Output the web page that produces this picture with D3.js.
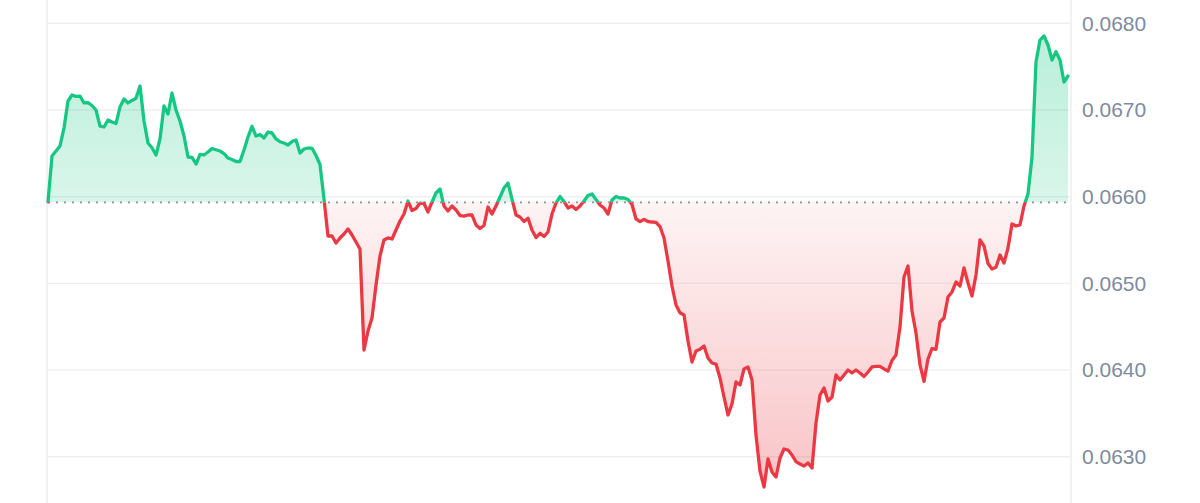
<!DOCTYPE html>
<html>
<head>
<meta charset="utf-8">
<script src="https://cdn.jsdelivr.net/npm/d3@7"></script>
<style>
  html, body { margin: 0; padding: 0; background: #fff; }
  svg { display: block; }
</style>
</head>
<body>
<div id="chart"></div>
<script>
// price readings, evenly spaced in time
const prices = [
  0.065940, 0.066469, 0.066527, 0.066585, 0.066792, 0.067104, 0.067173, 0.067156,
  0.067161, 0.067081, 0.067084, 0.067052, 0.067000, 0.066815, 0.066804, 0.066885,
  0.066862, 0.066844, 0.067035, 0.067127, 0.067081, 0.067110, 0.067135, 0.067277,
  0.066873, 0.066619, 0.066564, 0.066481, 0.066666, 0.067046, 0.066954, 0.067196,
  0.067000, 0.066873, 0.066700, 0.066458, 0.066454, 0.066377, 0.066489, 0.066481,
  0.066516, 0.066556, 0.066542, 0.066527, 0.066498, 0.066446, 0.066429, 0.066406,
  0.066406, 0.066539, 0.066689, 0.066812, 0.066700, 0.066717, 0.066677, 0.066746,
  0.066735, 0.066666, 0.066634, 0.066619, 0.066596, 0.066637, 0.066654, 0.066504,
  0.066550, 0.066562, 0.066558, 0.066475, 0.066371, 0.065973, 0.065547, 0.065547,
  0.065466, 0.065524, 0.065570, 0.065627, 0.065558, 0.065477, 0.065397, 0.064232,
  0.064451, 0.064601, 0.064982, 0.065316, 0.065501, 0.065524, 0.065512, 0.065616,
  0.065720, 0.065800, 0.065950, 0.065841, 0.065864, 0.065927, 0.065922, 0.065824,
  0.065939, 0.066043, 0.066089, 0.065893, 0.065835, 0.065893, 0.065847, 0.065783,
  0.065777, 0.065789, 0.065789, 0.065674, 0.065633, 0.065668, 0.065881, 0.065800,
  0.065893, 0.065997, 0.066100, 0.066158, 0.065973, 0.065789, 0.065766, 0.065714,
  0.065751, 0.065616, 0.065529, 0.065578, 0.065541, 0.065593, 0.065800, 0.065927,
  0.066002, 0.065945, 0.065870, 0.065893, 0.065852, 0.065893, 0.065950, 0.066014,
  0.066031, 0.065968, 0.065904, 0.065870, 0.065800, 0.065962, 0.066002, 0.065985,
  0.065985, 0.065968, 0.065910, 0.065743, 0.065712, 0.065739, 0.065714, 0.065708,
  0.065705, 0.065656, 0.065524, 0.065258, 0.064970, 0.064751, 0.064662, 0.064636,
  0.064336, 0.064093, 0.064220, 0.064240, 0.064278, 0.064140, 0.064082, 0.064070,
  0.063909, 0.063690, 0.063482, 0.063609, 0.063863, 0.063828, 0.064013, 0.064036,
  0.063886, 0.063251, 0.062836, 0.062652, 0.062975, 0.062825, 0.062767, 0.062986,
  0.063090, 0.063078, 0.063021, 0.062944, 0.062917, 0.062894, 0.062929, 0.062871,
  0.063390, 0.063713, 0.063794, 0.063644, 0.063690, 0.063944, 0.063886, 0.063944,
  0.064001, 0.063967, 0.064001, 0.063967, 0.063926, 0.063978, 0.064036, 0.064042,
  0.064042, 0.064013, 0.063990, 0.064111, 0.064174, 0.064497, 0.065074, 0.065201,
  0.064682, 0.064428, 0.064059, 0.063869, 0.064128, 0.064249, 0.064240, 0.064555,
  0.064601, 0.064843, 0.064901, 0.065016, 0.064970, 0.065178, 0.065005, 0.064855,
  0.065097, 0.065501, 0.065431, 0.065230, 0.065166, 0.065186, 0.065328, 0.065235,
  0.065408, 0.065685, 0.065662, 0.065674, 0.065893, 0.066031, 0.066458, 0.067554,
  0.067807, 0.067854, 0.067750, 0.067577, 0.067672, 0.067577, 0.067323, 0.067392
];

const basePrice = 0.065935;
const yTicks = [0.0630, 0.0640, 0.0650, 0.0660, 0.0670, 0.0680];

const width = 1200,
  height = 503;
const plotLeft = 47,
  plotRight = 1071;
const green = '#16c784',
  red = '#ea3943';

const svg = d3
  .select('#chart')
  .append('svg')
  .attr('width', width)
  .attr('height', height);

const x = d3
  .scaleLinear()
  .domain([0, prices.length - 1])
  .range([48, 1068]);

const y = d3.scaleLinear().domain([0.063, 0.068]).range([456.8, 23.3]);

const baseY = y(basePrice);

/* ------- GRID ------- */
svg
  .append('g')
  .selectAll('line')
  .data(yTicks)
  .enter()
  .append('line')
  .attr('x1', plotLeft)
  .attr('x2', plotRight)
  .attr('y1', (d) => y(d))
  .attr('y2', (d) => y(d))
  .attr('stroke', '#eeeff1')
  .attr('stroke-width', 1.4);

[plotLeft, plotRight].forEach((px) => {
  svg
    .append('line')
    .attr('x1', px)
    .attr('x2', px)
    .attr('y1', 0)
    .attr('y2', height)
    .attr('stroke', '#eeeff1')
    .attr('stroke-width', 1.6);
});

/* ------- GRADIENTS + CLIPS ------- */
const defs = svg.append('defs');

const gUp = defs
  .append('linearGradient')
  .attr('id', 'fillUp')
  .attr('gradientUnits', 'userSpaceOnUse')
  .attr('x1', 0)
  .attr('x2', 0)
  .attr('y1', y(d3.max(prices)))
  .attr('y2', baseY);
gUp.append('stop').attr('offset', '0%').attr('stop-color', green).attr('stop-opacity', 0.3);
gUp.append('stop').attr('offset', '100%').attr('stop-color', green).attr('stop-opacity', 0.16);

const gDown = defs
  .append('linearGradient')
  .attr('id', 'fillDown')
  .attr('gradientUnits', 'userSpaceOnUse')
  .attr('x1', 0)
  .attr('x2', 0)
  .attr('y1', baseY)
  .attr('y2', y(d3.min(prices)));
gDown.append('stop').attr('offset', '0%').attr('stop-color', red).attr('stop-opacity', 0.06);
gDown.append('stop').attr('offset', '100%').attr('stop-color', red).attr('stop-opacity', 0.3);

defs
  .append('clipPath')
  .attr('id', 'clipUp')
  .append('rect')
  .attr('x', 0)
  .attr('y', 0)
  .attr('width', width)
  .attr('height', baseY);

defs
  .append('clipPath')
  .attr('id', 'clipDown')
  .append('rect')
  .attr('x', 0)
  .attr('y', baseY)
  .attr('width', width)
  .attr('height', height - baseY);

const area = d3
  .area()
  .x((d, i) => x(i))
  .y0(baseY)
  .y1((d) => y(d));

const line = d3
  .line()
  .x((d, i) => x(i))
  .y((d) => y(d));

/* ------- AREAS ------- */
svg
  .append('path')
  .datum(prices)
  .attr('d', area)
  .attr('fill', 'url(#fillUp)')
  .attr('clip-path', 'url(#clipUp)');

svg
  .append('path')
  .datum(prices)
  .attr('d', area)
  .attr('fill', 'url(#fillDown)')
  .attr('clip-path', 'url(#clipDown)');

/* ------- BASELINE ------- */
svg
  .append('line')
  .attr('x1', 48)
  .attr('x2', plotRight - 2)
  .attr('y1', baseY)
  .attr('y2', baseY)
  .attr('stroke', '#8f8f8f')
  .attr('stroke-width', 1.8)
  .attr('stroke-dasharray', '2,6');

/* ------- LINES ------- */
svg
  .append('path')
  .datum(prices)
  .attr('d', line)
  .attr('fill', 'none')
  .attr('stroke', green)
  .attr('stroke-width', 3.3)
  .attr('stroke-linejoin', 'round')
  .attr('stroke-linecap', 'round')
  .attr('clip-path', 'url(#clipUp)');

svg
  .append('path')
  .datum(prices)
  .attr('d', line)
  .attr('fill', 'none')
  .attr('stroke', red)
  .attr('stroke-width', 3.3)
  .attr('stroke-linejoin', 'round')
  .attr('stroke-linecap', 'round')
  .attr('clip-path', 'url(#clipDown)');

/* ------- Y AXIS LABELS ------- */
svg
  .append('g')
  .selectAll('text')
  .data(yTicks)
  .enter()
  .append('text')
  .attr('x', 1082)
  .attr('y', (d) => y(d))
  .attr('dy', '0.35em')
  .attr('font-family', '"Liberation Sans", Arial, sans-serif')
  .attr('font-size', 21)
  .attr('fill', '#808a9d')
  .text((d) => d.toFixed(4));
</script>
</body>
</html>
